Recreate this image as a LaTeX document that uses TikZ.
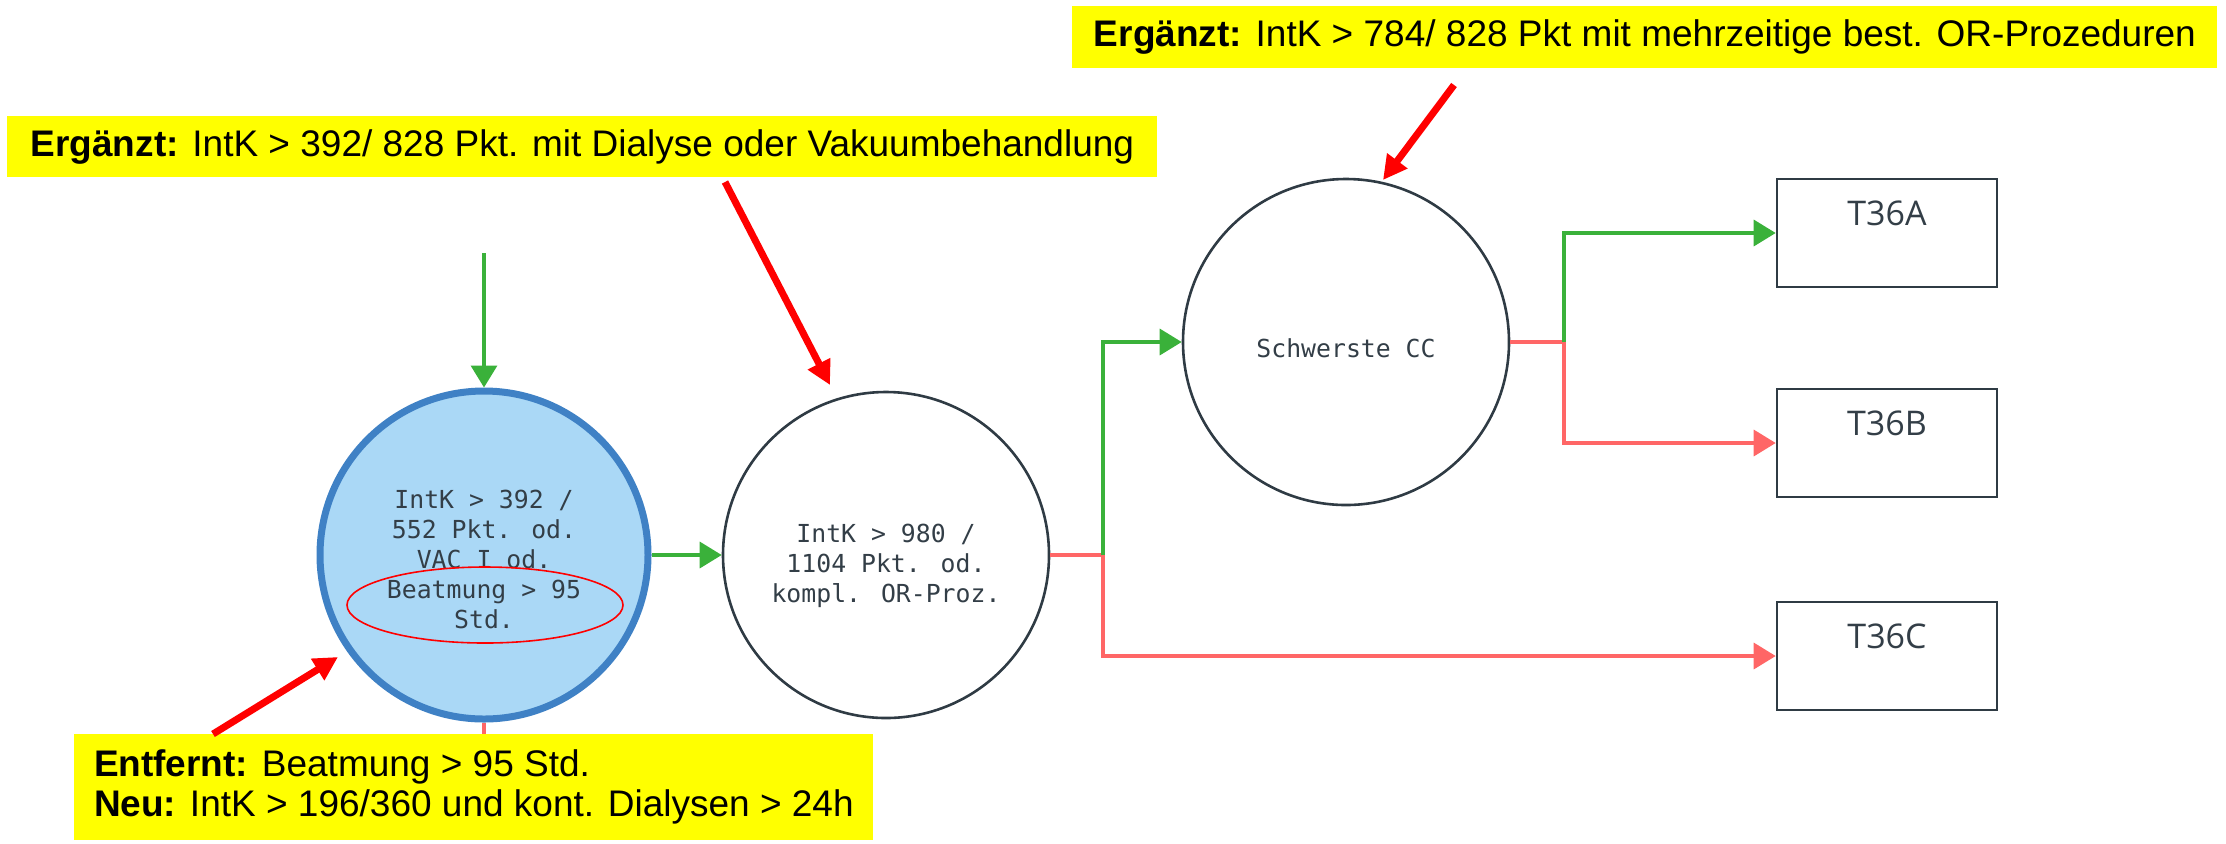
\documentclass[tikz,border=0pt]{standalone}
\usepackage{fontspec}
\setmainfont{Liberation Sans}
\newfontfamily\monofont{DejaVu Sans Mono}
\newfontfamily\boxfont{Open Sans}
\usepackage{tikz}
\usetikzlibrary{arrows.meta,shapes.geometric}
\definecolor{nodegrey}{HTML}{2F3B44}
\definecolor{textgrey}{HTML}{333E47}
\definecolor{yesgreen}{HTML}{3AB13A}
\definecolor{nored}{HTML}{FF6666}
\definecolor{markred}{HTML}{FF0000}
\definecolor{startfill}{HTML}{AAD8F6}
\definecolor{startline}{HTML}{3F81C5}
\definecolor{noteyellow}{HTML}{FFFF00}
\tikzset{
  decision/.style={circle,draw=nodegrey,line width=1.3pt,minimum size=163pt,inner sep=0pt,align=center,text=textgrey,font=\monofont\fontsize{12.4}{15}\selectfont},
  startnode/.style={decision,draw=startline,fill=startfill,line width=3.5pt,minimum size=164pt},
  result/.style={draw=nodegrey,line width=1.3pt,minimum width=110pt,minimum height=54pt,inner sep=0pt,text=textgrey,text depth=20pt,font=\boxfont\fontsize{17}{20}\selectfont},
  notebox/.style={fill=noteyellow,anchor=north west,inner xsep=8pt,inner ysep=0pt,align=left,font=\fontsize{18.5}{20}\selectfont},
  yesline/.style={draw=yesgreen,line width=1.7pt},
  noline/.style={draw=nored,line width=1.7pt},
  tip/.style={-{Triangle[length=11pt,width=13pt]}},
  hint/.style={draw=markred,line width=3.5pt,-{Triangle[length=12pt,width=12pt]}}
}
\begin{document}
\begin{tikzpicture}[x=0.5pt,y=-0.5pt]
    \useasboundingbox (0,0) rectangle (2226,843);
    \node[startnode] (intk392) at (484,555) {\rule{0pt}{13.5pt}IntK > 392 /\\552 Pkt. od.\\VAC I od.\\Beatmung > 95\\Std.};
    \node[draw=markred,line width=0.8pt,ellipse,minimum width=138pt,minimum height=38pt] (removed) at (485,605) {};
    \node[decision] (intk980) at (886,555) {\rule{0pt}{20pt}IntK > 980 /\\1104 Pkt. od.\\kompl. OR-Proz.};
    \node[decision,text height=16pt] (schwcc) at (1346,342) {Schwerste CC};
    \node[result] (t36a) at (1887,233) {T36A};
    \node[result] (t36b) at (1887,443) {T36B};
    \node[result] (t36c) at (1887,656) {T36C};
    \node[notebox,minimum width=572.5pt,minimum height=31pt] (noteor) at (1072,6) {\textbf{Ergänzt:} IntK > 784/ 828 Pkt mit mehrzeitige best. OR-Prozeduren};
    \node[notebox,minimum width=575pt,minimum height=30.5pt] (notedial) at (7,116) {\textbf{Ergänzt:} IntK > 392/ 828 Pkt. mit Dialyse oder Vakuumbehandlung};
    \node[notebox,minimum width=399.5pt,minimum height=53pt] (notebeat) at (74,734) {\textbf{Entfernt:} Beatmung > 95 Std.\\\textbf{Neu:} IntK > 196/360 und kont. Dialysen > 24h};
    \coordinate (entry) at (484,253);
    \coordinate (split1) at (1103,555);
    \coordinate (split2) at (1564,342);
    \coordinate (hintdial) at (725,182);
    \coordinate (hintdialend) at (830,385);
    \coordinate (hintor) at (1454,85);
    \coordinate (hintorend) at (1383,180);
    \coordinate (hintbeat) at (213,734);
    \coordinate (hintbeatend) at (338,657);
    \draw[yesline,tip] (entry) -- (intk392.north);
    \draw[noline] (intk392.south) -- (intk392.south |- notebeat.north);
    \draw[yesline,tip] (intk392.east) -- (intk980.west);
    \draw[noline] (intk980.east) -- (split1);
    \draw[noline,tip] (split1) |- (t36c.west);
    \draw[yesline,tip] (split1) |- (schwcc.west);
    \draw[noline] (schwcc.east) -- (split2);
    \draw[noline,tip] (split2) |- (t36b.west);
    \draw[yesline,tip] (split2) |- (t36a.west);
    \draw[hint] (hintdial) -- (hintdialend);
    \draw[hint] (hintor) -- (hintorend);
    \draw[hint] (hintbeat) -- (hintbeatend);
\end{tikzpicture}
\end{document}
